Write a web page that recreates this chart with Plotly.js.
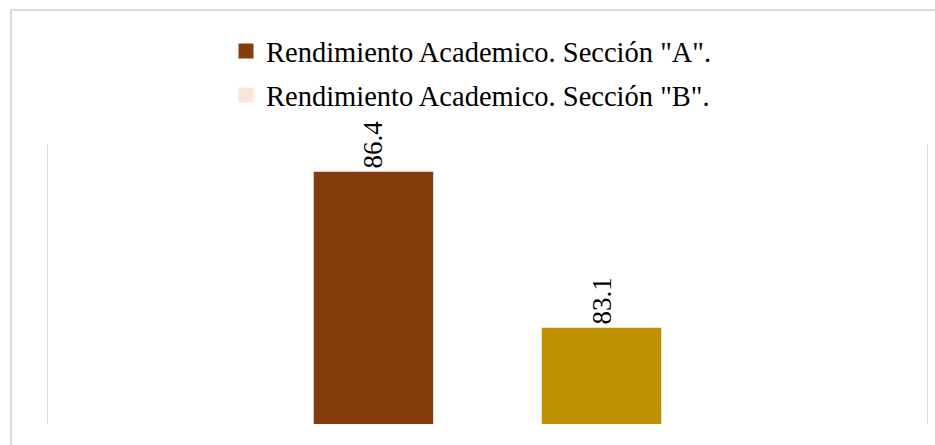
<!DOCTYPE html>
<html>
<head>
<meta charset="utf-8">
<script src="https://cdn.plot.ly/plotly-3.0.1.min.js"></script>
</head>
<body style="margin:0">
<div id="chart"></div>
<script>
// ---- data ----
const categories = ['Rendimiento Academico'];
const seriesNames = ['Rendimiento Academico. Sección "A".', 'Rendimiento Academico. Sección "B".'];
const valuesA = [86.4];
const valuesB = [83.1];
const barColors = ['#843C0C', '#BF9000'];
const legendColors = ['#843C0C', '#FBE5D6'];

const serif = 'Liberation Serif';

const W = 935, H = 445;
const L = 48, R = 8, T = 144, B = 21;
const pw = W - L - R, ph = H - T - B;
const px = v => (v - L) / pw;
const py = v => (H - B - v) / ph;

const barTrace = (vals, i) => ({
  type: 'bar',
  x: categories,
  y: vals,
  name: seriesNames[i],
  showlegend: false,
  marker: { color: barColors[i], line: { color: 'rgba(255,255,255,0.5)', width: 1 } },
  text: vals.map(v => v.toFixed(1)),
  textposition: 'outside',
  textangle: -90,
  textfont: { family: serif, size: 27, color: '#000' },
  cliponaxis: false,
  hoverinfo: 'y'
});

const legendTrace = i => ({
  type: 'scatter',
  mode: 'markers',
  x: [null],
  y: [null],
  name: seriesNames[i],
  legendgroup: 'g' + i,
  marker: { symbol: 'square', size: 15, color: legendColors[i] },
  showlegend: true,
  hoverinfo: 'skip'
});

const data = [
  barTrace(valuesA, 0),
  barTrace(valuesB, 1),
  legendTrace(0),
  legendTrace(1)
];

const layout = {
  width: W,
  height: H,
  font: { family: serif },
  margin: { l: L, r: R, t: T, b: B, pad: 0 },
  paper_bgcolor: '#ffffff',
  plot_bgcolor: '#ffffff',
  barmode: 'group',
  bargap: 0.481,
  bargroupgap: 0.474,
  showlegend: true,
  legend: {
    orientation: 'v',
    x: px(226), xanchor: 'left',
    y: py(26), yanchor: 'top',
    font: { family: serif, size: 28.5, color: '#000' },
    tracegroupgap: 4,
    bgcolor: 'rgba(0,0,0,0)'
  },
  xaxis: {
    type: 'category',
    showticklabels: false,
    showgrid: false,
    zeroline: false,
    showline: false,
    ticks: ''
  },
  yaxis: {
    range: [81.06, 86.98],
    showticklabels: false,
    showgrid: false,
    zeroline: false,
    showline: true,
    mirror: true,
    linecolor: '#D9D9D9',
    linewidth: 1,
    ticks: ''
  },
  shapes: [
    { type: 'line', xref: 'paper', yref: 'paper', x0: px(11), x1: px(940), y0: py(10), y1: py(10),
      line: { color: '#D9D9D9', width: 2 } },
    { type: 'line', xref: 'paper', yref: 'paper', x0: px(11), x1: px(11), y0: py(10), y1: py(450),
      line: { color: '#D9D9D9', width: 2 } }
  ]
};

Plotly.newPlot('chart', data, layout, { displayModeBar: false });
</script>
</body>
</html>
